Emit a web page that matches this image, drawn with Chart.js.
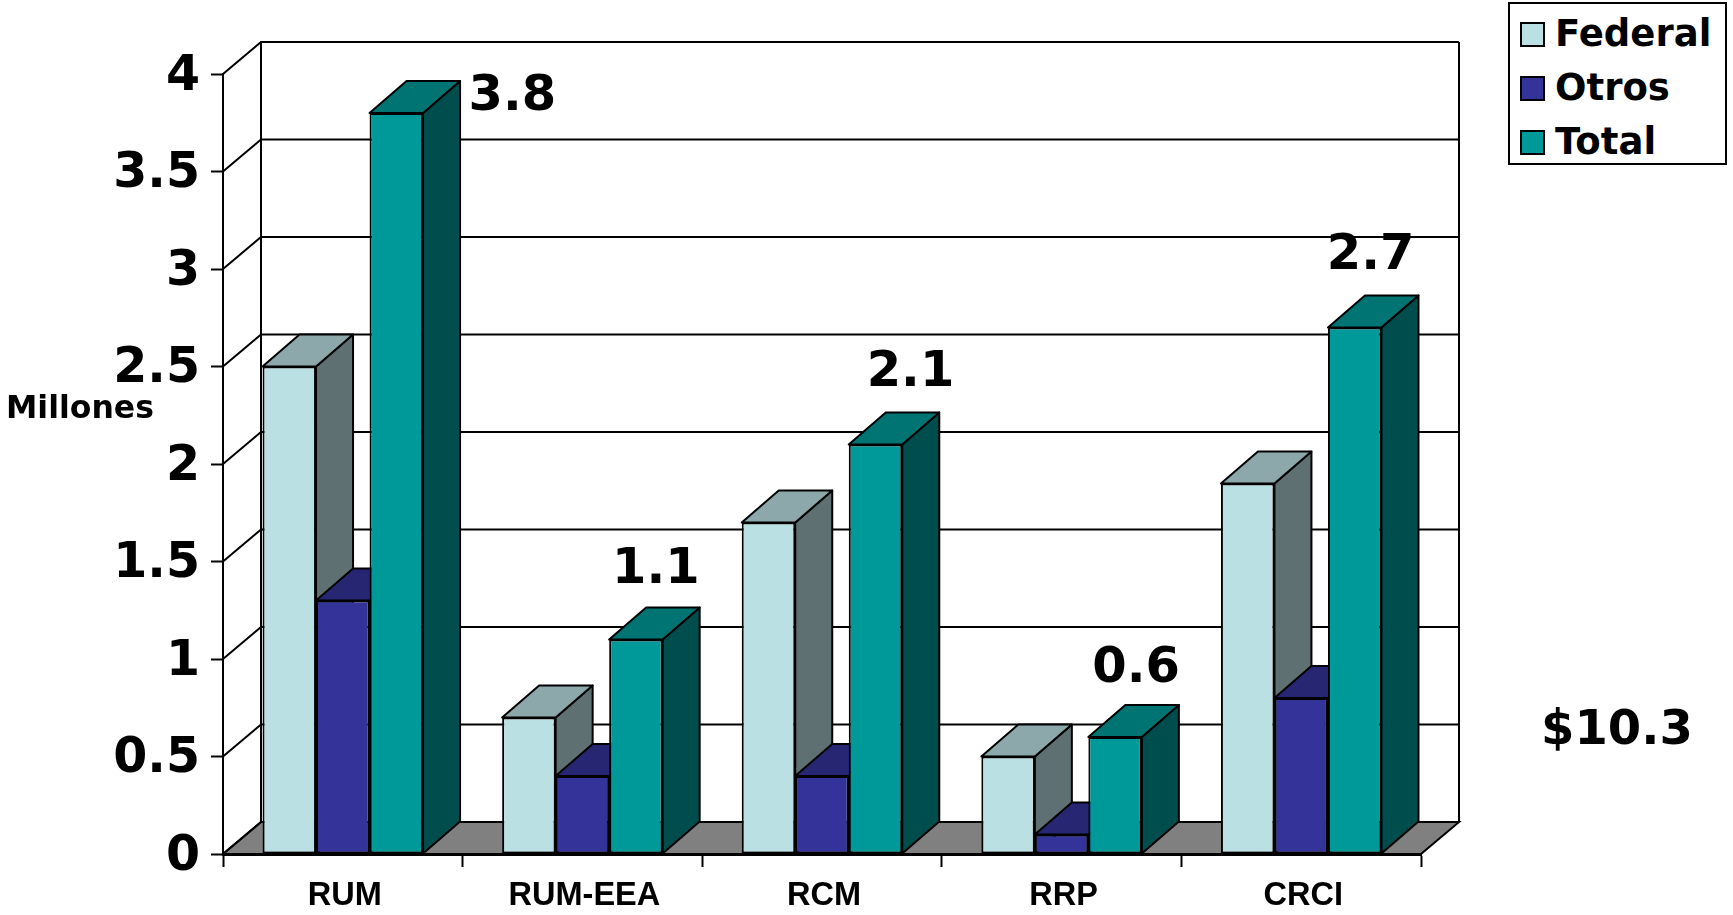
<!DOCTYPE html>
<html>
<head>
<meta charset="utf-8">
<title>Millones</title>
<script src="https://cdn.jsdelivr.net/npm/chart.js@4"></script>
<style>
    html, body { margin: 0; padding: 0; background: #fff; }
    #wrap { position: relative; width: 1733px; height: 915px; overflow: hidden; font-family: "DejaVu Sans", sans-serif; font-weight: bold; color: #000; }
    canvas { position: absolute; left: 0; top: 0; }
    #axis-name { position: absolute; left: 6px; top: 388px; font-size: 31.5px; line-height: 38px; }
    #grand-total { position: absolute; left: 1541px; top: 697px; font-size: 48px; line-height: 60px; }
    #legend { position: absolute; left: 1508px; top: 2px; width: 215px; height: 159px; border: 2px solid #000; background: #fff; }
    .legend-row { position: absolute; left: 10px; height: 40px; line-height: 40px; font-size: 37px; white-space: nowrap; }
    .legend-row i { display: inline-block; width: 21px; height: 21px; border: 2px solid #000; margin-right: 10px; vertical-align: -1px; }
</style>
</head>
<body>
<div id="wrap">
    <canvas id="chart" width="1733" height="915"></canvas>
    <div id="axis-name">Millones</div>
    <div id="grand-total">$10.3</div>
    <div id="legend"></div>
</div>
<script>
const categories = ["RUM", "RUM-EEA", "RCM", "RRP", "CRCI"];
const federal = [2.5, 0.7, 1.7, 0.5, 1.9];
const otros = [1.3, 0.4, 0.4, 0.1, 0.8];
const total = [3.8, 1.1, 2.1, 0.6, 2.7];
const totalLabels = ["3.8", "1.1", "2.1", "0.6", "2.7"];

// where each total label sits relative to the top of its bar
const labelShiftX = [116, 20, 35, 21, 16];
const labelShiftY = [-16, -69, -71, -68, -71];

const wallDepthX = 38;
const wallDepthY = 32;
const barDepthX = 37;
const barDepthY = 32;

function polygon(ctx, pts, fill) {
    ctx.beginPath();
    ctx.moveTo(pts[0][0], pts[0][1]);
    for (let i = 1; i < pts.length; i++) ctx.lineTo(pts[i][0], pts[i][1]);
    ctx.closePath();
    if (fill) {
        ctx.fillStyle = fill;
        ctx.fill();
    }
    ctx.stroke();
}

// back wall, side wall and floor, placed from the axis scales
const wallsPlugin = {
    id: "walls",
    beforeDraw(chart) {
        const ctx = chart.ctx;
        const xs = chart.scales.x;
        const ys = chart.scales.y;
        const left = xs.left, right = xs.right;
        const bottom = ys.getPixelForValue(0);
        const top = ys.getPixelForValue(4);
        ctx.save();
        ctx.strokeStyle = "#000";
        ctx.lineWidth = 2;
        polygon(ctx, [[left, bottom], [left + wallDepthX, bottom - wallDepthY], [right + wallDepthX, bottom - wallDepthY], [right, bottom]], "#808080");
        ys.ticks.forEach(tick => {
            const y = ys.getPixelForValue(tick.value);
            ctx.beginPath();
            ctx.moveTo(left, y);
            ctx.lineTo(left + wallDepthX, y - wallDepthY);
            ctx.lineTo(right + wallDepthX, y - wallDepthY);
            ctx.stroke();
        });
        ctx.beginPath();
        ctx.moveTo(left + wallDepthX, bottom - wallDepthY);
        ctx.lineTo(left + wallDepthX, top - wallDepthY);
        ctx.moveTo(right + wallDepthX, bottom - wallDepthY);
        ctx.lineTo(right + wallDepthX, top - wallDepthY);
        ctx.stroke();
        ctx.restore();
    }
};

// Chart.js paints the last dataset first, here the bars have to go left to right
// so that each block covers the depth faces of the one before it
const depthPlugin = {
    id: "depth",
    beforeDatasetsDraw(chart) {
        const ctx = chart.ctx;
        chart.data.datasets.forEach((ds, index) => {
            const meta = chart.getDatasetMeta(index);
            ctx.save();
            ctx.strokeStyle = "#000";
            ctx.lineWidth = 2;
            ctx.lineJoin = "round";
            meta.data.forEach(bar => {
                const l = bar.x - bar.width / 2;
                const r = bar.x + bar.width / 2;
                polygon(ctx, [[r, bar.base], [r + barDepthX, bar.base - barDepthY], [r + barDepthX, bar.y - barDepthY], [r, bar.y]], ds.sideColor);
                polygon(ctx, [[l, bar.y], [l + barDepthX, bar.y - barDepthY], [r + barDepthX, bar.y - barDepthY], [r, bar.y]], ds.topColor);
            });
            ctx.restore();
            meta.controller.draw();
        });
    },
    beforeDatasetDraw() {
        return false;
    }
};

// y tick labels sit a little below their tick in the reference, and the totals float above the bars
const labelPlugin = {
    id: "chartLabels",
    afterDatasetsDraw(chart) {
        const ctx = chart.ctx;
        const ys = chart.scales.y;
        ctx.save();
        ctx.font = "bold 49.5px 'DejaVu Sans'";
        ctx.fillStyle = "#000";
        ctx.textAlign = "center";
        ctx.textBaseline = "middle";
        chart.getDatasetMeta(2).data.forEach((bar, i) => {
            ctx.fillText(totalLabels[i], bar.x + labelShiftX[i], bar.y + labelShiftY[i]);
        });
        ctx.font = "bold 49px 'DejaVu Sans'";
        ctx.textAlign = "right";
        ys.ticks.forEach(tick => {
            ctx.fillText(String(tick.value), ys.right - 23, ys.getPixelForValue(tick.value) + 3);
        });
        ctx.restore();
    }
};

function makeDataset(label, values, color, sideColor, topColor) {
    return {
        label: label,
        data: values,
        backgroundColor: color,
        sideColor: sideColor,
        topColor: topColor,
        borderColor: "#000",
        borderWidth: 2,
        borderSkipped: false,
        categoryPercentage: 0.67,
        barPercentage: 1
    };
}

const datasets = [
    makeDataset("Federal", federal, "#BBE0E3", "#5E7072", "#8CA8AA"),
    makeDataset("Otros", otros, "#333399", "#1A1A4D", "#262673"),
    makeDataset("Total", total, "#009999", "#004D4D", "#007373")
];

const chart = new Chart(document.getElementById("chart"), {
    type: "bar",
    data: { labels: categories, datasets: datasets },
    plugins: [wallsPlugin, depthPlugin, labelPlugin],
    options: {
        responsive: false,
        animation: false,
        layout: { padding: { left: 0, top: 74, right: 312, bottom: 0 } },
        plugins: { legend: { display: false }, tooltip: { enabled: false } },
        scales: {
            x: {
                afterFit(scale) { scale.height = 61; },
                grid: { drawOnChartArea: false, tickLength: 13, tickColor: "#000", tickWidth: 2 },
                border: { color: "#000", width: 3 },
                ticks: {
                    color: "#000",
                    padding: 10,
                    labelOffset: 2,
                    maxRotation: 0,
                    font: { family: "'Liberation Sans'", weight: "bold", size: 32.5 }
                }
            },
            y: {
                min: 0,
                max: 4,
                afterFit(scale) { scale.width = 223; },
                grid: { drawOnChartArea: false, tickLength: 12, tickColor: "#000", tickWidth: 2 },
                border: { color: "#000", width: 2 },
                ticks: {
                    stepSize: 0.5,
                    color: "rgba(0,0,0,0)",
                    padding: 10,
                    font: { family: "'DejaVu Sans'", weight: "bold", size: 48 }
                }
            }
        }
    }
});

// legend box, built from the datasets
const legendEl = document.getElementById("legend");
const legendRowTops = [10, 64, 118];
datasets.forEach((ds, i) => {
    const row = document.createElement("div");
    row.className = "legend-row";
    row.style.top = legendRowTops[i] + "px";
    const swatch = document.createElement("i");
    swatch.style.background = ds.backgroundColor;
    row.appendChild(swatch);
    row.appendChild(document.createTextNode(ds.label));
    legendEl.appendChild(row);
});
</script>
</body>
</html>
